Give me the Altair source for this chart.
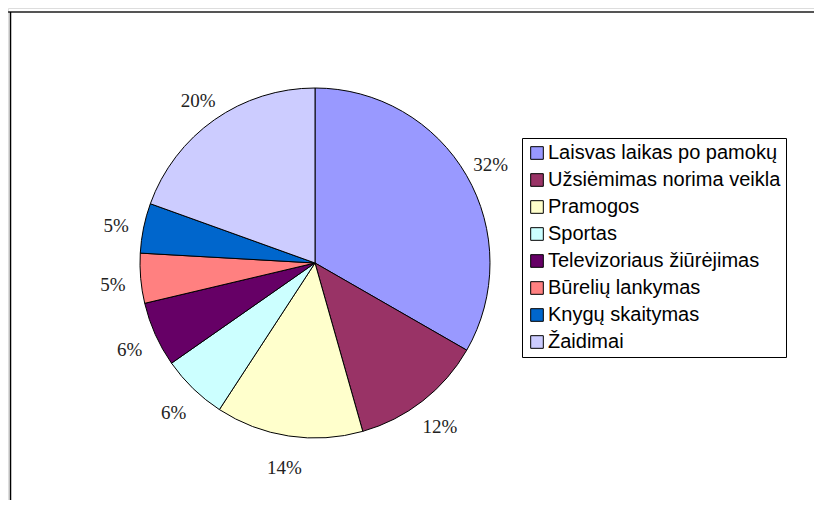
import altair as alt
import pandas as pd

categories = [
    "Laisvas laikas po pamokų",
    "Užsiėmimas norima veikla",
    "Pramogos",
    "Sportas",
    "Televizoriaus žiūrėjimas",
    "Būrelių lankymas",
    "Knygų skaitymas",
    "Žaidimai",
]
# slice shares as drawn in the picture (percent)
shares = [33.3, 12.3, 13.6, 6.1, 6.0, 4.6, 4.6, 19.5]
# label texts as printed on the picture
labels = ["32%", "12%", "14%", "6%", "6%", "5%", "5%", "20%"]
colors = ["#9999FF", "#993366", "#FFFFCC", "#CCFFFF", "#660066", "#FF8080", "#0066CC", "#CCCCFF"]

df = pd.DataFrame({
    "cat": categories,
    "share": shares,
    "label": labels,
    "idx": list(range(len(categories))),
})

CX, CY = 307, 255

base = alt.Chart(df).encode(
    theta=alt.Theta("share:Q", stack=True),
    order=alt.Order("idx:Q", sort="ascending"),
)

pie = base.mark_arc(outerRadius=175, stroke="black", strokeWidth=1).encode(
    x=alt.value(CX),
    y=alt.value(CY),
    color=alt.Color(
        "cat:N",
        scale=alt.Scale(domain=categories, range=colors),
        sort=categories,
        legend=alt.Legend(
            title=None,
            orient="none",
            legendX=514,
            legendY=130,
            symbolType="square",
            symbolSize=160,
            symbolStrokeColor="black",
            symbolStrokeWidth=1,
            labelFont="Liberation Sans",
            labelFontSize=20,
            labelColor="black",
            labelLimit=400,
            rowPadding=7,
            padding=5,
            strokeColor="black",
            fillColor="white",
            labelOffset=1,
        ),
    ),
)

text = base.mark_text(
    radius=203, font="Liberation Serif", fontSize=19, color="#222222", dy=4
).encode(
    x=alt.value(CX),
    y=alt.value(CY),
    text="label:N",
)

frame_df = pd.DataFrame({"k": [0]})
top_line = alt.Chart(frame_df).mark_rule(color="#555555", strokeWidth=2).encode(
    x=alt.value(0), x2=alt.value(806), y=alt.value(4)
)
left_line = alt.Chart(frame_df).mark_rule(color="black", strokeWidth=1.5).encode(
    x=alt.value(2.5), y=alt.value(4), y2=alt.value(492)
)

chart = alt.layer(top_line, left_line, pie, text).properties(
    width=806, height=492, padding=0, autosize=alt.AutoSizeParams(type="none")
).configure_view(stroke=None).configure(background="white")

chart.save("out.html", embed_options={"renderer": "svg", "actions": False})
